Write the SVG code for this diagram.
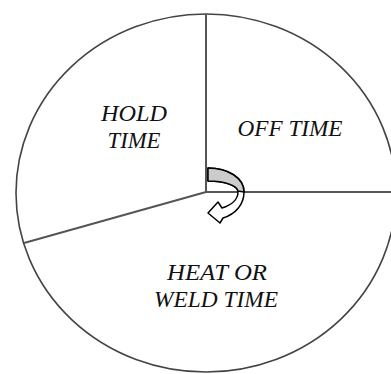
<svg xmlns="http://www.w3.org/2000/svg" width="391" height="374" viewBox="0 0 391 374">
<style>
.lbl{font-family:"Liberation Serif","Times New Roman",serif;font-style:italic;font-size:24px;fill:#111;text-anchor:middle}
.div{stroke:#555;stroke-width:2;fill:none}
</style>
<rect width="391" height="374" fill="#fff"/>
<g id="pie">
<ellipse cx="206" cy="193" rx="190" ry="179" fill="#fff" stroke="#444" stroke-width="1.6"/>
</g>
<g id="connectors">
<line class="div" x1="206" y1="14" x2="206" y2="192"/>
<line class="div" x1="205" y1="192" x2="391" y2="192"/>
<line class="div" x1="206" y1="192" x2="24" y2="243"/>
</g>
<g id="hold"><text class="lbl" x="134" y="121" textLength="66" lengthAdjust="spacingAndGlyphs">HOLD</text><text class="lbl" x="134" y="148" textLength="53" lengthAdjust="spacingAndGlyphs">TIME</text></g>
<g id="off"><text class="lbl" x="290" y="135.5" textLength="105" lengthAdjust="spacingAndGlyphs">OFF TIME</text></g>
<g id="heat"><text class="lbl" x="217" y="280" textLength="100" lengthAdjust="spacingAndGlyphs">HEAT OR</text><text class="lbl" x="216" y="307" textLength="124" lengthAdjust="spacingAndGlyphs">WELD TIME</text></g>
<g id="arrow" stroke="#000" stroke-width="1.5" stroke-linejoin="round">
<path d="M208,168 C228,168 244,178 244,192 C244,204 236,214 223,218 L220,223 L208,213 L218,202 L222,208 C232,205 238,199 238,192 C238,186 226,181 208,181 Z" fill="#fff"/>
<path d="M208,168 C228,168 244,178 244,192 L238,191 C237,186 226,181 208,181 Z" fill="#ccc"/>
</g>
</svg>
